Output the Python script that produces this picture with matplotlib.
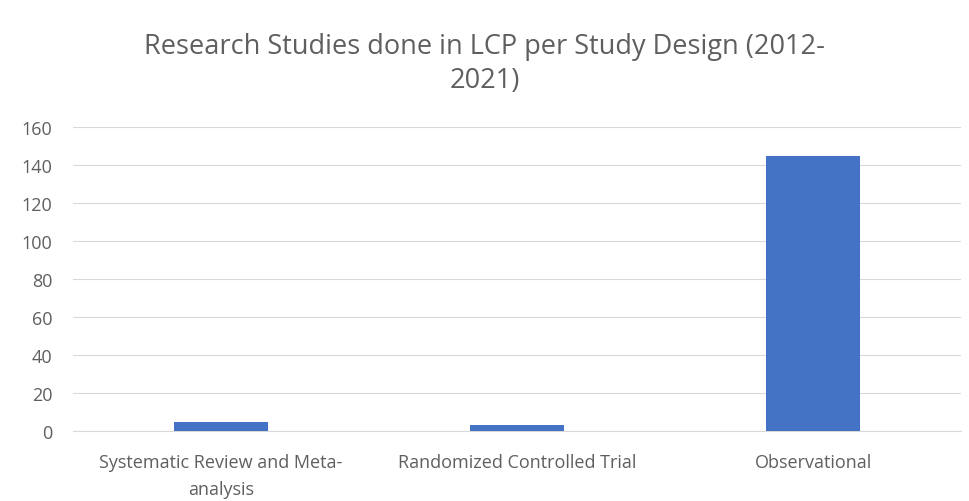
import matplotlib
matplotlib.use("Agg")
import matplotlib.pyplot as plt

categories = ["Systematic Review and Meta-\nanalysis", "Randomized Controlled Trial", "Observational"]
counts = [5, 3, 145]
yticks = [0, 20, 40, 60, 80, 100, 120, 140, 160]

plt.rcParams['font.family'] = ['Open Sans', 'DejaVu Sans']
text_color = "#5f5f5f"

fig = plt.figure(figsize=(9.69, 5.02), dpi=100)
ax = fig.add_axes([73 / 969, 1 - 432 / 502, 888 / 969, (432 - 128) / 502])

x = list(range(len(categories)))
ax.bar(x, counts, width=0.32, color="#4472C4", zorder=3)

ax.set_xlim(-0.5, len(categories) - 0.5)
ax.set_ylim(0, 160)
ax.set_yticks(yticks)
ax.set_xticks(x)
ax.set_xticklabels(categories, fontsize=13, color=text_color, linespacing=1.6)
ax.tick_params(axis='y', labelsize=13, colors=text_color, length=0, pad=15)
ax.tick_params(axis='x', length=0, pad=16)
ax.grid(axis='y', color="#d9d9d9", linewidth=0.8, zorder=0)
for s in ["top", "right", "left"]:
    ax.spines[s].set_visible(False)
ax.spines["bottom"].set_color("#d9d9d9")

fig.text(0.5, 0.873, "Research Studies done in LCP per Study Design (2012-\n2021)",
         ha="center", va="center", fontsize=19.5, color=text_color, linespacing=1.3)

fig.savefig("out.png", dpi=100, facecolor="white")
